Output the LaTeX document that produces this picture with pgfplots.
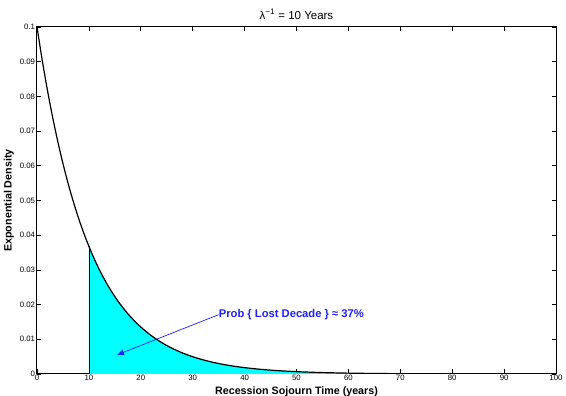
\documentclass[border=0pt]{standalone}
\usepackage{pgfplots}
\pgfplotsset{compat=1.18}
\usetikzlibrary{arrows.meta}
\usepackage{fontspec}
\setmainfont{Liberation Sans}
\definecolor{fillcyan}{RGB}{0,255,255}
\definecolor{annblue}{RGB}{30,30,255}
\begin{document}
\begin{tikzpicture}[x=1pt,y=1pt]
\useasboundingbox (0,0) rectangle (566,396);
\begin{axis}[
  at={(37pt,22pt)}, anchor=south west,
  scale only axis, width=519pt, height=347pt,
  xmin=0, xmax=100, ymin=0, ymax=0.1,
  xtick={0,10,...,100},
  ytick={0,0.01,...,0.1},
  yticklabels={0,0.01,0.02,0.03,0.04,0.05,0.06,0.07,0.08,0.09,0.1},
  tick align=inside, major tick length=4.5pt,
  /pgf/number format/assume math mode=true,
  tick label style={font=\fontsize{7.8}{8}\selectfont},
  xticklabel style={yshift=2pt},
  yticklabel style={xshift=1.5pt},
  axis line style={line width=1pt},
  every tick/.style={black, line width=0.7pt},
  xlabel={\bfseries Recession Sojourn Time (years)},
  ylabel={\bfseries Exponential Density},
  label style={font=\fontsize{10.7}{11}\selectfont},
  xlabel style={yshift=1pt},
  ylabel style={yshift=-1pt},
  title={λ\textsuperscript{−1} = 10 Years},
  title style={font=\fontsize{11.5}{12}\selectfont, yshift=-2pt},
]
\addplot[fill=fillcyan, draw=none] coordinates {
(10,0) (10,0.036788) (11,0.033287) (12,0.030119) (13,0.027253) (14,0.024660)
(15,0.022313) (16,0.020190) (17,0.018268) (18,0.016530) (19,0.014957)
(20,0.013534) (22,0.011080) (24,0.009072) (26,0.007427) (28,0.006081)
(30,0.004979) (32,0.004076) (34,0.003337) (36,0.002732) (38,0.002237)
(40,0.001832) (43,0.001357) (46,0.001005) (50,0.000674) (55,0.000409)
(60,0.000248) (65,0.000150) (70,0.0000912) (80,0.0000335) (90,0.0000123)
(100,0.0000045) (100,0)} -- cycle;
\addplot[black, line width=0.6pt] coordinates {(10,0) (10,0.036788)};
\addplot[black, line width=1.2pt, smooth] coordinates {
(0,0.1) (1,0.090484) (2,0.081873) (3,0.074082) (4,0.067032) (5,0.060653)
(6,0.054881) (7,0.049659) (8,0.044933) (9,0.040657) (10,0.036788)
(11,0.033287) (12,0.030119) (13,0.027253) (14,0.024660)
(15,0.022313) (16,0.020190) (17,0.018268) (18,0.016530) (19,0.014957)
(20,0.013534) (22,0.011080) (24,0.009072) (26,0.007427) (28,0.006081)
(30,0.004979) (32,0.004076) (34,0.003337) (36,0.002732) (38,0.002237)
(40,0.001832) (43,0.001357) (46,0.001005) (50,0.000674) (55,0.000409)
(60,0.000248) (65,0.000150) (70,0.0000912) (80,0.0000335) (90,0.0000123)
(100,0.0000045)};
\draw[-{Latex[length=7pt,width=6pt]}, annblue, line width=0.7pt] (axis cs:35,0.0171) -- (axis cs:15.4,0.0055);
\node[anchor=west, inner sep=0pt, text=annblue, font=\fontsize{11.2}{12}\selectfont\bfseries]
  at (axis cs:35,0.0171) {Prob \{ Lost Decade \} ≈ 37\%};
\end{axis}
\end{tikzpicture}
\end{document}
